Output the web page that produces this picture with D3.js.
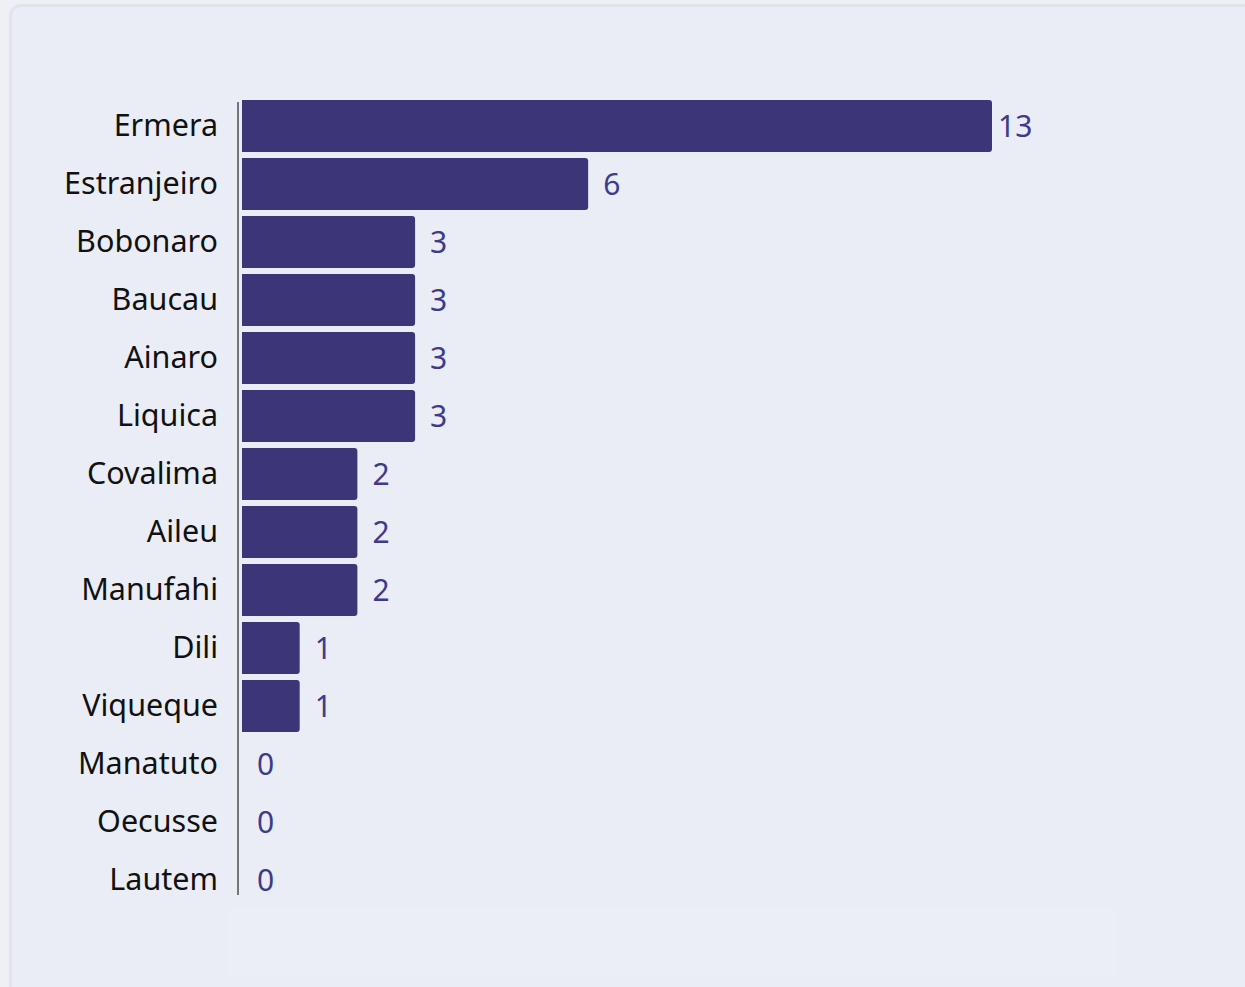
<!DOCTYPE html>
<html>
<head>
<meta charset="utf-8">
<script src="https://cdn.jsdelivr.net/npm/d3@7"></script>
<style>
  html, body { margin: 0; padding: 0; background: #eef0f6; }
  body { width: 1245px; height: 987px; overflow: hidden; }
  text { font-family: "Noto Sans", "Open Sans", sans-serif; }
</style>
</head>
<body>
<svg id="chart" width="1245" height="987"></svg>
<script>
  // municipalities, top to bottom
  var districts = ["Ermera", "Estranjeiro", "Bobonaro", "Baucau", "Ainaro", "Liquica",
    "Covalima", "Aileu", "Manufahi", "Dili", "Viqueque", "Manatuto", "Oecusse", "Lautem"];
  var counts = [13, 6, 3, 3, 3, 3, 2, 2, 2, 1, 1, 0, 0, 0];

  var svg = d3.select("#chart");

  // card behind the chart
  svg.append("rect")
    .attr("x", 10.5).attr("y", 5.5)
    .attr("width", 1250).attr("height", 1000)
    .attr("rx", 10)
    .attr("fill", "#eaedf5")
    .attr("stroke", "#e1e4ee")
    .attr("stroke-width", 3);

  // faint strip under the plot
  svg.append("rect")
    .attr("x", 228).attr("y", 908)
    .attr("width", 888).attr("height", 68)
    .attr("fill", "#ebeef6");

  var margin = { left: 242, top: 100 },
    rowStep = 58,
    gap = 6;

  var x = d3.scaleLinear()
    .domain([0, 13])
    .range([0, 750]);

  var y = d3.scaleBand()
    .domain(districts)
    .range([0, rowStep * districts.length - gap])
    .paddingInner(gap / rowStep)
    .paddingOuter(0)
    .align(0);

  var g = svg.append("g")
    .attr("transform", "translate(" + margin.left + "," + margin.top + ")");

  var data = districts.map(function(d, i) { return { name: d, value: counts[i] }; });

  // bars with rounded right end
  g.selectAll(".bar")
    .data(data.filter(function(d) { return d.value > 0; }))
    .enter().append("path")
    .attr("class", "bar")
    .attr("fill", "#3c3679")
    .attr("d", function(d) {
      var w = x(d.value), h = y.bandwidth(), y0 = y(d.name), r = 3;
      return "M0," + y0 + "H" + (w - r) + "Q" + w + "," + y0 + " " + w + "," + (y0 + r) +
        "V" + (y0 + h - r) + "Q" + w + "," + (y0 + h) + " " + (w - r) + "," + (y0 + h) +
        "H0Z";
    });

  // value labels
  g.selectAll(".val")
    .data(data)
    .enter().append("text")
    .attr("class", "val")
    .attr("x", function(d) { return x(d.value) + (d.value >= 10 ? 6 : 15); })
    .attr("y", function(d) { return y(d.name) + y.bandwidth() / 2; })
    .attr("dy", "0.36em")
    .attr("font-size", 30)
    .attr("fill", "#3f3b8c")
    .text(function(d) { return d.value; });

  // category axis
  var axis = d3.axisLeft(y).tickSize(0).tickPadding(20);
  var ax = svg.append("g")
    .attr("transform", "translate(238," + margin.top + ")")
    .call(axis);
  ax.select(".domain")
    .attr("d", "M0,2V795")
    .attr("stroke", "#777")
    .attr("stroke-width", 2);
  ax.selectAll("text")
    .attr("font-size", 30.5)
    .attr("fill", "#111")
    .style("font-family", "\"Noto Sans\", \"Open Sans\", sans-serif");
</script>
</body>
</html>
